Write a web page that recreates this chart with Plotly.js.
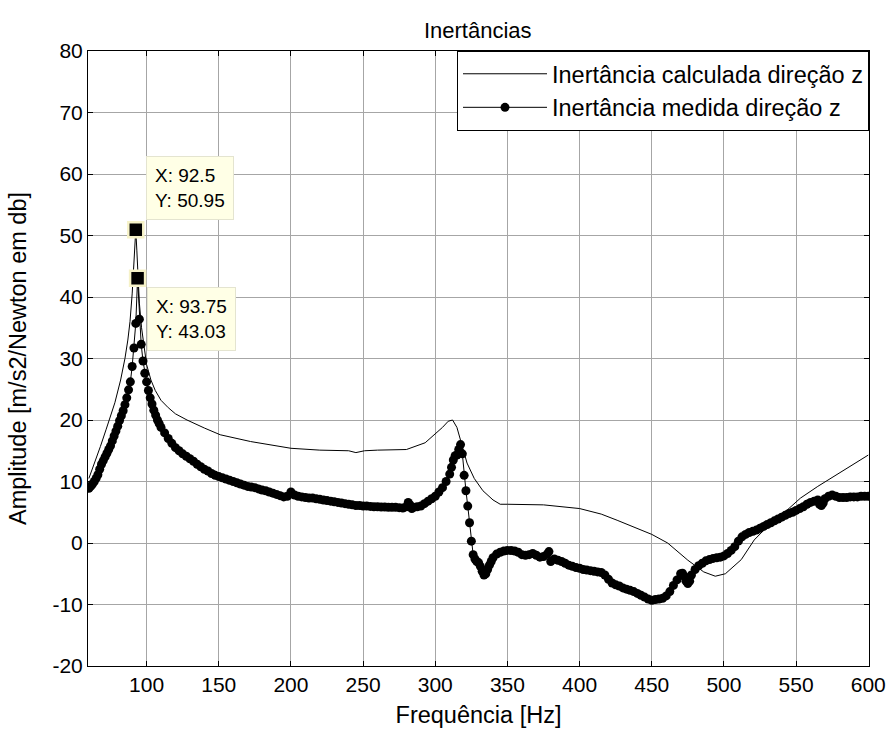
<!DOCTYPE html>
<html>
<head>
<meta charset="utf-8">
<script src="https://cdn.plot.ly/plotly-3.0.1.min.js"></script>
<style>html,body{margin:0;padding:0;background:#fff;}#chart{width:893px;height:733px;}</style>
</head>
<body>
<div id="chart"></div>
<script>
// Calculated inertance (thin line)
const fCalc = [60, 64, 68, 72, 75, 78, 82, 85, 87, 88.5, 90, 91, 91.75, 92.5, 93.25, 94, 95, 96.5, 98, 100, 103, 106, 110, 115, 120, 128, 140, 151, 172, 200, 220, 240, 245, 248, 251, 260, 280, 293, 301, 305, 309, 312, 315, 318, 322, 327, 333, 340, 345, 350, 375, 400, 415, 426, 438, 450, 461, 475, 486, 494, 501, 506, 512, 521, 530, 544, 553, 565, 576, 588, 600];
const ampCalc = [10.5, 13.0, 15.7, 18.5, 20.5, 22.8, 26.5, 30.0, 33.0, 36.0, 40.5, 44.5, 48.0, 50.95, 47.5, 43.5, 39.0, 35.0, 32.0, 29.0, 26.5, 24.8, 23.2, 22.0, 21.0, 20.0, 18.7, 17.6, 16.5, 15.4, 15.1, 15.0, 14.7, 14.85, 15.0, 15.1, 15.2, 16.3, 17.9, 18.8, 19.8, 20.0, 18.8, 16.3, 13.0, 10.5, 8.5, 7.0, 6.3, 6.3, 6.2, 5.6, 4.7, 3.7, 2.6, 1.4, 0.0, -2.8, -4.7, -5.4, -5.0, -4.0, -2.7, 0.5, 2.65, 5.4, 7.3, 9.2, 10.8, 12.5, 14.3];

// Measured inertance (line with dots)
const fMeas = [60,61.25,62.5,63.75,65,66.25,67.5,68.75,70,71.25,72.5,73.75,75,76.25,77.5,78.75,80,81.25,82.5,83.75,85,86.25,87.5,88.75,90,91.25,92.5,93.75,95,96.25,97.5,98.75,100,101.25,102.5,103.75,105,106.25,107.5,108.75,110,112.5,115,117.5,120,122.5,125,127.5,130,132.5,135,137.5,140,142.5,145,147.5,150,152.5,155,157.5,160,162.5,165,167.5,170,172.5,175,177.5,180,182.5,185,187.5,190,192.5,195,197.5,200,202.5,205,207.5,210,212.5,215,217.5,220,222.5,225,227.5,230,232.5,235,237.5,240,242.5,245,247.5,250,252.5,255,257.5,260,262.5,265,267.5,270,272.5,275,277.5,280,281.25,282.5,283.75,285,287.5,290,292.5,295,297.5,300,302.5,305,307.5,310,311.25,312.5,313.75,315,316.25,317.5,318.75,320,321.25,322.5,323.75,325,326.25,327.5,328.75,330,331.25,332.5,333.75,335,336.25,337.5,338.75,340,342.5,345,347.5,350,352.5,355,357.5,360,362.5,365,367.5,370,372.5,375,377.5,378.75,380,382.5,385,387.5,390,392.5,395,397.5,400,402.5,405,407.5,410,412.5,415,417.5,420,422.5,425,427.5,430,432.5,435,437.5,440,442.5,445,447.5,450,452.5,455,457.5,460,462.5,465,467.5,470,471.25,472.5,473.75,475,476.25,477.5,480,482.5,485,487.5,490,492.5,495,497.5,500,502.5,505,507.5,510,512.5,515,517.5,520,522.5,525,527.5,530,532.5,535,537.5,540,542.5,545,547.5,550,552.5,555,557.5,560,562.5,565,566.25,567.5,568.75,570,572.5,575,577.5,580,582.5,585,587.5,590,592.5,595,597.5,600];
const ampMeas = [8.9,9.2,9.6,10.0,10.5,11.1,12.0,12.8,13.4,14.0,14.6,15.2,15.8,16.6,17.4,18.2,19.0,19.9,20.7,21.5,22.5,23.6,24.9,26.2,28.7,31.7,35.7,43.03,36.4,32.3,29.6,27.6,26.2,24.8,23.6,22.6,21.6,20.8,20.0,19.4,18.8,17.9,17.0,16.2,15.5,15.0,14.5,14.1,13.7,13.3,12.8,12.4,12.0,11.7,11.3,11.0,10.8,10.6,10.4,10.2,10.0,9.8,9.6,9.4,9.2,9.1,9.0,8.8,8.6,8.5,8.3,8.1,7.9,7.7,7.5,7.6,8.3,7.8,7.6,7.5,7.4,7.3,7.3,7.2,7.1,7.0,6.9,6.8,6.7,6.6,6.5,6.4,6.3,6.2,6.1,6.1,6.0,6.0,5.95,5.9,5.9,5.85,5.85,5.8,5.8,5.8,5.75,5.7,5.9,6.6,6.2,5.6,5.8,5.9,6.0,6.4,6.8,7.2,7.6,8.3,9.0,10.0,11.2,12.3,13.5,14.2,14.3,15.2,16.0,14.5,11.0,8.5,6.0,3.3,0.3,-1.9,-2.6,-3.0,-3.2,-3.8,-4.6,-5.2,-5.0,-4.3,-3.6,-3.0,-2.4,-1.8,-1.5,-1.3,-1.2,-1.2,-1.3,-1.5,-1.9,-2.0,-1.9,-1.7,-2.0,-2.3,-2.2,-1.8,-1.4,-3.0,-2.6,-2.8,-3.0,-3.3,-3.6,-3.8,-4.0,-4.1,-4.3,-4.4,-4.5,-4.6,-4.7,-4.8,-5.2,-5.9,-6.5,-6.8,-7.0,-7.3,-7.5,-7.7,-7.9,-8.2,-8.5,-8.8,-9.1,-9.3,-9.2,-9.1,-9.0,-8.6,-7.9,-6.9,-6.0,-5.0,-4.9,-5.4,-6.2,-6.6,-6.2,-5.2,-4.3,-3.7,-3.3,-2.9,-2.7,-2.5,-2.4,-2.3,-2.1,-1.7,-1.2,-0.6,0.3,1.0,1.4,1.7,1.9,2.1,2.4,2.7,3.0,3.3,3.6,3.9,4.2,4.5,4.8,5.0,5.3,5.6,5.9,6.3,6.6,6.8,7.0,6.3,6.1,6.5,7.2,7.6,7.8,7.6,7.4,7.4,7.4,7.5,7.5,7.5,7.6,7.6,7.6];

// Data tips
const tipX = [92.5, 93.75];
const tipY = [50.95, 43.03];

const xTicks = [100, 150, 200, 250, 300, 350, 400, 450, 500, 550, 600];
const yTicks = [-20, -10, 0, 10, 20, 30, 40, 50, 60, 70, 80];

const FONT = 'Liberation Sans, Arial, sans-serif';

const traces = [
  {x: fCalc, y: ampCalc, type: 'scatter', mode: 'lines', name: 'Inertância calculada direção z',
   line: {color: '#000', width: 1}},
  {x: fMeas, y: ampMeas, type: 'scatter', mode: 'lines+markers', name: 'Inertância medida direção z',
   line: {color: '#000', width: 1}, marker: {color: '#000', size: 9}},
  {x: tipX, y: tipY, type: 'scatter', mode: 'markers', showlegend: false, hoverinfo: 'skip',
   marker: {symbol: 'square', color: '#000', size: 15, line: {color: '#f6f2c8', width: 2.5}}}
];

const annotations = tipX.map((xv, i) => ({
  x: xv, y: tipY[i], xref: 'x', yref: 'y', showarrow: false,
  text: 'X: ' + xv + '<br>Y: ' + tipY[i],
  align: 'left', xanchor: 'left', yanchor: i === 0 ? 'bottom' : 'top',
  xshift: i === 0 ? 10 : 9, yshift: i === 0 ? 10 : -9,
  bgcolor: '#ffffe6', bordercolor: '#e4e4d0', borderwidth: 1, borderpad: 8,
  font: {family: FONT, size: 19, color: '#000'}
}));

const layout = {
  width: 893, height: 733,
  paper_bgcolor: '#fff', plot_bgcolor: '#fff',
  margin: {l: 88, r: 24, t: 51, b: 67},
  font: {family: FONT, color: '#000', size: 21},
  title: {text: 'Inertâncias', font: {family: FONT, size: 22, color: '#000'}, x: 0.535, xanchor: 'center', y: 0.959, yanchor: 'middle'},
  xaxis: {
    range: [59.4, 600.5], tickvals: xTicks, ticktext: xTicks.map(String),
    showgrid: true, gridcolor: '#a6a6a6', gridwidth: 1, zeroline: false,
    showline: true, linecolor: '#000', linewidth: 1, mirror: 'ticks',
    ticks: 'inside', ticklen: 5, tickcolor: '#000',
    tickfont: {family: FONT, size: 21, color: '#000'},
    title: {text: 'Frequência [Hz]', font: {family: FONT, size: 23.5, color: '#000'}, standoff: 11}
  },
  yaxis: {
    range: [-20, 80], tickvals: yTicks, ticktext: yTicks.map(String),
    showgrid: true, gridcolor: '#a6a6a6', gridwidth: 1, zeroline: false,
    showline: true, linecolor: '#000', linewidth: 1, mirror: 'ticks',
    ticks: 'inside', ticklen: 5, tickcolor: '#000',
    tickfont: {family: FONT, size: 21, color: '#000'},
    title: {text: 'Amplitude [m/s2/Newton em db]', font: {family: FONT, size: 23.5, color: '#000'}, standoff: 19}
  },
  legend: {
    x: 1, xanchor: 'right', y: 1, yanchor: 'top',
    bgcolor: '#fff', bordercolor: '#000', borderwidth: 1,
    font: {family: FONT, size: 23.5, color: '#000'},
    itemwidth: 84, tracegroupgap: 0
  },
  annotations: annotations,
  showlegend: true
};

Plotly.newPlot('chart', traces, layout, {displayModeBar: false, staticPlot: true});
</script>
</body>
</html>
